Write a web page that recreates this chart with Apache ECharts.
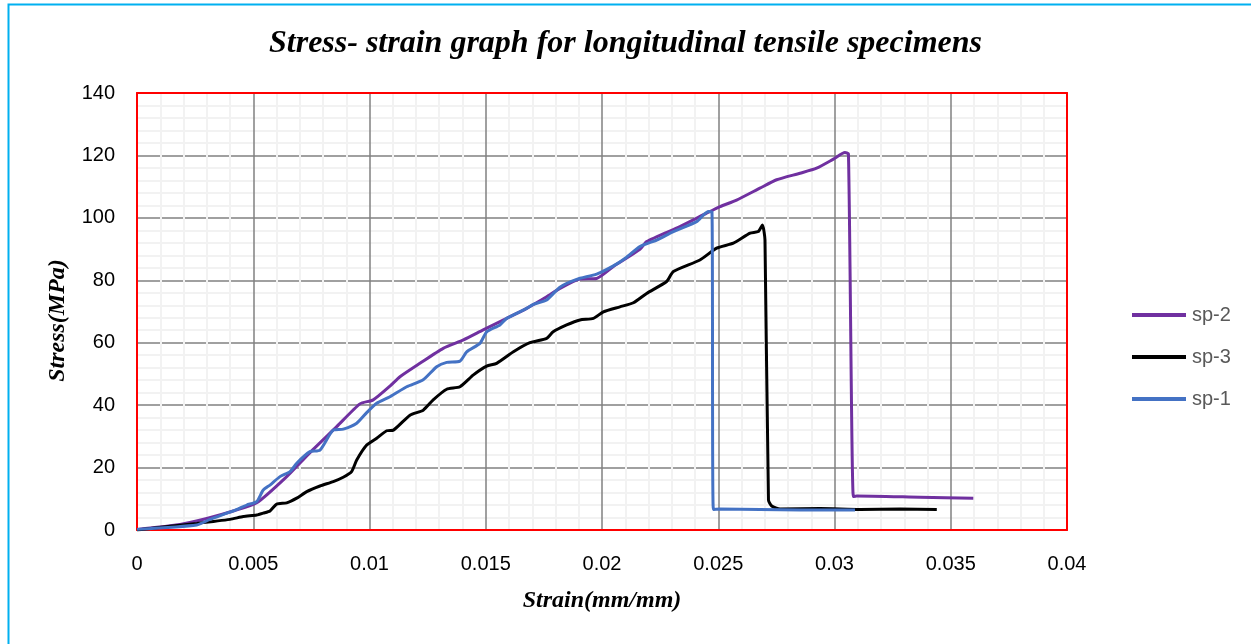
<!DOCTYPE html>
<html>
<head>
<meta charset="utf-8">
<script src="https://cdn.jsdelivr.net/npm/echarts@6/dist/echarts.min.js"></script>
<style>
html,body{margin:0;padding:0;background:#fff;}
#chart{width:1251px;height:644px;}
</style>
</head>
<body>
<div id="chart"></div>
<script>
// ---- data (strain mm/mm, stress MPa) ----
const sp2Strain = [0,0.00185,0.0030,0.00414,0.00515,0.00644,0.00744,0.00859,0.00959,0.01016,0.01088,0.01131,0.01217,0.01317,0.01404,0.01489,0.0159,0.01676,0.01762,0.01819,0.01905,0.01977,0.02049,0.02163,0.02192,0.02335,0.0245,0.02508,0.02579,0.02679,0.02751,0.02852,0.02923,0.02995,0.03045,0.0306,0.03081,0.03095,0.03368,0.03597];
const sp2Stress = [0.2,1.8,3.7,6.1,8.7,17.1,24.8,33.1,40.4,41.7,46.1,49.1,53.4,58.2,60.9,64.1,67.8,71.0,74.7,77.4,80.4,80.6,84.4,89.9,92.4,97.2,101.5,103.6,105.7,109.5,112.2,114.3,115.9,118.8,120.9,120.5,10.7,10.9,10.5,10.2];

const sp3Strain = [0,0.00257,0.004,0.00457,0.00515,0.00543,0.00572,0.00601,0.00644,0.00687,0.0073,0.00787,0.00844,0.00887,0.00923,0.00945,0.00988,0.01031,0.01074,0.01103,0.01174,0.01231,0.01274,0.01332,0.01389,0.01447,0.01504,0.01547,0.01619,0.0169,0.01762,0.0179,0.01848,0.01905,0.01963,0.02006,0.02077,0.02135,0.02192,0.02278,0.02307,0.02421,0.02493,0.02565,0.02637,0.02672,0.0269,0.02701,0.02716,0.0273,0.02766,0.02938,0.0311,0.03282,0.0344];
const sp3Stress = [0,2.1,3.4,4.3,4.8,5.4,6.1,8.3,8.7,10.2,12.3,14.1,15.5,16.9,18.7,22.4,27.2,29.4,31.8,32.0,36.8,38.4,41.7,45.1,45.9,49.7,52.5,53.4,57.1,60.0,61.4,63.5,65.7,67.3,67.8,69.9,71.5,72.8,75.8,79.6,82.8,86.5,90.3,91.9,95.1,95.6,97.7,92.9,9.6,7.7,6.7,6.9,6.6,6.7,6.6];

const sp1Strain = [0,0.00257,0.00314,0.00414,0.00472,0.00515,0.00543,0.00572,0.00615,0.00658,0.00687,0.00744,0.00787,0.00844,0.00887,0.00945,0.00988,0.01031,0.01088,0.0116,0.01231,0.01289,0.01332,0.01389,0.01418,0.01475,0.01504,0.01561,0.0159,0.01676,0.01705,0.01762,0.01819,0.01891,0.01977,0.02049,0.02106,0.02163,0.02235,0.02307,0.02407,0.02436,0.02457,0.02473,0.02479,0.02508,0.0268,0.02852,0.03088];
const sp1Stress = [0.2,1.6,3.4,6.1,8.0,9.1,12.8,14.4,17.1,18.7,21.4,25.1,25.6,32.0,32.3,34.2,37.6,40.6,42.7,45.9,48.1,52.3,53.7,54.1,57.1,59.8,63.5,65.7,67.8,71.0,72.3,73.7,77.8,80.3,82.0,84.6,87.4,90.8,92.9,95.6,98.8,100.9,102.0,101.9,6.6,6.7,6.6,6.4,6.4];

const xTicks = ['0','0.005','0.01','0.015','0.02','0.025','0.03','0.035','0.04'];
const yTicks = ['0','20','40','60','80','100','120','140'];

const seriesNames = ['sp-2','sp-3','sp-1'];
const seriesColors = ['#7030A0','#000000','#4472C4'];

function pairs(xs, ys){ return xs.map((x,i)=>[x, ys[i]]); }
const seriesData = [pairs(sp2Strain, sp2Stress), pairs(sp3Strain, sp3Stress), pairs(sp1Strain, sp1Stress)];

const chart = echarts.init(document.getElementById('chart'), null, {renderer:'canvas'});
const tickFont = {fontFamily:'Liberation Sans', fontSize:20, color:'#000'};
const nameFont = {fontFamily:'Liberation Serif', fontStyle:'italic', fontWeight:'bold', fontSize:24, color:'#000'};

chart.setOption({
  animation:false,
  backgroundColor:'#fff',
  graphic:[{type:'rect', left:6, top:2, shape:{width:1400, height:800}, style:{fill:'none', stroke:'#00B0F0', lineWidth:2}, z:-10, silent:true}],
  title:{
    text:'Stress- strain graph for longitudinal tensile specimens',
    left:'center', top:23,
    textStyle:{fontFamily:'Liberation Serif', fontStyle:'italic', fontWeight:'bold', fontSize:32, color:'#000'}
  },
  legend:{
    orient:'vertical', left:1127, top:300, itemGap:22,
    icon:'rect', itemWidth:54, itemHeight:4,
    data:seriesNames,
    textStyle:{fontFamily:'Liberation Sans', fontSize:20, color:'#595959', padding:[0,0,0,1]}
  },
  grid:{left:137, right:184, top:93, bottom:114, show:false},
  xAxis:[{
    type:'value', min:0, max:0.04, interval:0.005,
    name:'Strain(mm/mm)', nameLocation:'middle', nameGap:59, nameTextStyle:nameFont,
    axisLine:{show:true, onZero:false, lineStyle:{color:'#FF0000', width:2}},
    axisTick:{show:false},
    axisLabel:Object.assign({margin:24, formatter:(v)=>{const i=Math.round(v/0.005); return xTicks[i]!==undefined?xTicks[i]:'';}}, tickFont),
    splitLine:{show:true, lineStyle:{color:'#808080', width:1.5}},
    minorTick:{show:false, splitNumber:5},
    minorSplitLine:{show:true, lineStyle:{color:'#F2F2F2', width:2}},
    z:3
  },{
    type:'value', position:'top', min:0, max:0.04, interval:0.005,
    axisLine:{show:true, onZero:false, lineStyle:{color:'#FF0000', width:2}},
    axisTick:{show:false}, axisLabel:{show:false}, splitLine:{show:false}, z:3
  }],
  yAxis:[{
    type:'value', min:0, max:140, interval:20,
    name:'Stress(MPa)', nameLocation:'middle', nameGap:67, nameTextStyle:Object.assign({padding:[0,18,0,0]}, nameFont),
    axisLine:{show:true, onZero:false, lineStyle:{color:'#FF0000', width:2}},
    axisTick:{show:false},
    axisLabel:Object.assign({margin:22, formatter:(v)=>{const i=Math.round(v/20); return yTicks[i]!==undefined?yTicks[i]:'';}}, tickFont),
    splitLine:{show:true, lineStyle:{color:'#808080', width:1.5}},
    minorTick:{show:false, splitNumber:5},
    minorSplitLine:{show:true, lineStyle:{color:'#F2F2F2', width:2}},
    z:3
  },{
    type:'value', position:'right', min:0, max:140, interval:20,
    axisLine:{show:true, onZero:false, lineStyle:{color:'#FF0000', width:2}},
    axisTick:{show:false}, axisLabel:{show:false}, splitLine:{show:false}, z:3
  }],
  series: seriesNames.map((n,i)=>({
    name:n, type:'line', data:seriesData[i], xAxisIndex:0, yAxisIndex:0,
    showSymbol:false, symbol:'none', smooth:0.2,
    lineStyle:{color:seriesColors[i], width:3},
    itemStyle:{color:seriesColors[i]},
    z:4+i
  }))
});
</script>
</body>
</html>
